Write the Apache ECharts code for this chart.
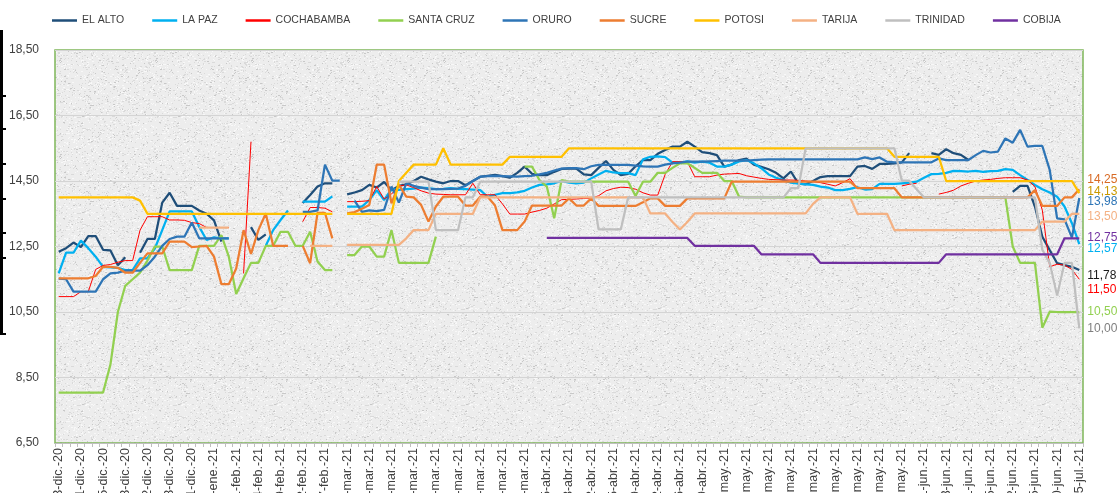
<!DOCTYPE html>
<html>
<head>
<meta charset="utf-8">
<script src="https://cdn.jsdelivr.net/npm/echarts@6/dist/echarts.min.js"></script>
<style>
  html, body { margin: 0; padding: 0; background: #ffffff; }
  #chart { width: 1120px; height: 493px; }
</style>
</head>
<body>
<div id="chart"></div>
<script>
// días con dato, por mes (eje de categorías)
const diasDic = [3, 7, 9, 11, 12, 14, 15, 16, 17, 18, 19, 21, 22, 23, 24, 28, 29, 30, 31];
const diasEne = [4, 5, 11, 18, 25];
const diasFeb = [1, 2, 3, 4, 5, 8, 9, 10, 11, 12, 15, 16, 17, 18];
const diasMar = [1, 2, 3, 4, 5, 6, 8, 9, 10, 11, 12, 13, 15, 16, 17, 18, 19, 20, 22, 23, 24, 25, 26, 27, 29, 30, 31];
const diasAbr = [1, 5, 6, 7, 8, 9, 10, 12, 13, 14, 15, 16, 17, 19, 20, 21, 22, 23, 24, 26, 27, 28, 29, 30];
const diasMay = [3, 4, 5, 6, 7, 8, 10, 11, 12, 13, 14, 15, 16, 17, 18, 19, 20, 21, 22, 23, 24, 25, 26, 27, 28, 29, 30, 31];
const diasJun = [1, 3, 7, 8, 9, 10, 11, 12, 14, 15, 18, 21, 22, 23, 24, 25, 28, 29, 30];
const diasJul = [1, 2, 5];

const elAlto = [
  12.34, 12.45, 12.62, 12.48, 12.82, 12.82, 12.4, 12.38, 11.93, 12.17,
  null, 12.31, 12.73, 12.73, 13.84, 14.14, 13.74, 13.74, 13.74, 13.6,
  13.5, 13.3, 12.65, null, null, null, 13.09, 12.7, 12.87, null,
  null, null, null, 13.83, 14.07, 14.33, 14.43, 14.43, null, 14.09,
  14.15, 14.22, 14.38, 14.3, 14.47, 14.22, 14.35, 14.4, 14.5, 14.63,
  14.55, 14.48, 14.43, 14.5, 14.5, 14.37, 14.5, 14.63, 14.66, 14.69,
  14.65, 14.6, 14.75, 14.94, 14.72, 14.68, 14.68, 14.78, 14.87, 14.88,
  14.88, 14.7, 14.68, 14.9, 15.11, 14.84, 14.68, 14.72, 14.95, 15.14,
  15.14, 15.33, 15.45, 15.55, 15.55, 15.7, 15.55, 15.38, 15.35, 15.29,
  14.94, 15.0, 15.14, 15.18, 15.0, 14.93, 14.86, 14.75, 14.58, 14.79,
  14.43, 14.4, 14.5, 14.62, 14.65, 14.65, 14.65, 14.65, 14.94, 14.96,
  14.87, 15.02, 15.02, 15.04, 15.07, 15.35, null, null, 15.35, 15.3,
  15.47, 15.35, 15.3, 15.14, null, null, null, null, null, 14.17,
  14.35, 14.35, 13.72, 12.8, 12.39, 11.99, 11.93, 11.88, 11.78
];
const laPaz = [
  11.68, 12.31, 12.31, 12.68, 12.45, 12.19, 11.88, 11.86, 11.85, 11.78,
  11.78, 12.14, 12.14, 12.44, 13.0, 13.57, 13.57, 13.57, 13.57, 13.1,
  12.7, 12.78, 12.75, 12.75, null, null, null, null, 12.52, 13.0,
  13.31, 13.6, null, 13.87, 13.87, 13.87, 13.87, 14.03, null, 13.72,
  13.72, 13.72, 13.92, 14.22, 13.92, 14.25, 14.23, 14.25, 14.27, 14.3,
  14.28, 14.25, 14.26, 14.28, 14.26, 14.25, 14.24, 14.22, 14.02, 14.08,
  14.13, 14.13, 14.15, 14.2, 14.3, 14.38, 14.4, 14.43, 14.5, 14.45,
  14.43, 14.45, 14.58, 14.7, 14.81, 14.76, 14.74, 14.74, 14.68, 15.16,
  15.24, 15.25, 15.23, 15.06, 15.06, 15.1, 15.06, 15.09, 15.06, 14.94,
  14.94, 15.0, 15.1, 15.14, 15.04, 14.89, 14.7, 14.6, 14.53, 14.45,
  14.42, 14.4, 14.38, 14.33, 14.3, 14.22, 14.22, 14.26, 14.31, 14.24,
  14.25, 14.41, 14.41, 14.41, 14.43, 14.45, 14.48, 14.6, 14.71, 14.72,
  14.75, 14.81, 14.8, 14.79, 14.81, 14.78, 14.8, 14.81, 14.86, 14.84,
  14.68, 14.53, 14.38, 14.25, 14.15, 14.02, 13.72, 13.21, 12.57
];
const cochabamba = [
  10.97, 10.97, 10.97, 11.12, 11.12, 11.8, 11.92, 11.95, 12.02, 12.07,
  12.07, 13.0, 13.41, 13.41, 13.41, 13.31, 13.31, 13.3, 13.23, 13.2,
  13.08, 13.08, 13.08, 13.08, null, 11.68, 15.7, null, null, null,
  null, null, null, 13.26, 13.69, 13.69, 13.67, 13.56, null, 13.87,
  13.87, 13.88, 13.9, 14.33, 13.95, 14.1, 14.35, 14.38, 14.3, 14.2,
  14.13, 14.1, 14.09, 14.08, 14.08, 14.08, 14.43, 14.08, 14.08, 14.08,
  13.8, 13.49, 13.49, 13.49, 13.55, 13.6, 13.67, 13.8, 13.93, 13.94,
  13.95, 13.97, 13.97, 14.05, 14.2, 14.27, 14.31, 14.3, 14.25, 14.14,
  14.07, 14.07, 14.7, 15.09, 15.09, 15.09, 14.63, 14.63, 14.63, 14.68,
  14.71, 14.72, 14.73, 14.66, 14.62, 14.58, 14.55, 14.54, 14.53, 14.53,
  14.52, 14.5, 14.48, 14.45, 14.4, 14.35, 14.45, 14.57, 14.28, 14.28,
  14.28, 14.28, 14.28, null, 14.35, 14.4, 14.43, null, null, 14.1,
  14.15, 14.22, 14.35, 14.43, 14.5, 14.53, 14.55, 14.58, 14.6, 14.6,
  14.6, 14.53, 14.33, 13.61, 11.88, 11.96, 11.93, 11.8, 11.5
];
const santaCruz = [
  8.04, 8.04, 8.04, 8.04, 8.04, 8.04, 8.04, 8.9, 10.5, 11.3,
  11.5, 11.7, 12.07, 12.5, 12.5, 11.78, 11.78, 11.78, 11.78, 12.52,
  12.52, 12.52, 12.85, 12.19, 11.05, 11.53, 12.0, 12.0, 12.52, 12.52,
  12.95, 12.95, 12.52, 12.52, 12.95, 12.04, 11.78, 11.78, null, 12.24,
  12.24, 12.5, 12.5, 12.19, 12.19, 13.0, 12.0, 12.0, 12.0, 12.0,
  12.0, 12.8, null, null, null, null, null, null, null, null,
  null, null, null, 14.94, 14.94, 14.53, 14.33, 13.36, 14.53, 14.48,
  14.48, 14.48, 14.48, 14.48, 14.48, 14.48, 14.48, 14.48, 14.04, 14.48,
  14.48, 14.75, 14.75, 14.9, 15.04, 15.04, 14.9, 14.75, 14.75, 14.75,
  14.5, 14.5, 14.02, 14.0, 14.0, 14.0, 14.0, 14.0, 14.0, 14.0,
  14.0, 14.0, 14.0, 14.0, 14.0, 14.0, 14.0, 14.0, 14.0, 14.0,
  14.0, 14.0, 14.0, 14.0, 14.0, 14.0, 14.0, 14.0, 14.0, 14.0,
  14.0, 14.0, 14.0, 14.0, 14.0, 14.0, 14.0, 14.0, 14.0, 12.5,
  12.0, 12.0, 12.0, 10.02, 10.51, 10.5, 10.5, 10.5, 10.5
];
const oruro = [
  11.52, 11.5, 11.12, 11.12, 11.12, 11.12, 11.5, 11.68, 11.7, 11.76,
  11.76, 11.76, 11.93, 12.19, 12.52, 12.73, 12.8, 12.8, 13.23, 12.75,
  12.75, 12.75, 12.75, 12.75, null, null, null, null, null, null,
  null, null, null, 13.56, 13.56, 13.6, 15.0, 14.51, 14.51, null,
  13.9, 13.56, 13.6, 13.58, 13.62, 14.33, 13.84, 14.43, 14.35, 14.3,
  14.25, 14.25, 14.25, 14.26, 14.27, 14.35, 14.5, 14.63, 14.65, 14.66,
  14.65, 14.64, 14.63, 14.65, 14.66, 14.7, 14.75, 14.82, 14.88, 14.89,
  14.89, 14.86, 14.95, 14.99, 14.99, 14.99, 14.99, 14.99, 14.97, 14.95,
  14.94, 14.94, 15.0, 15.04, 15.06, 15.09, 15.09, 15.09, 15.1, 15.11,
  15.12, 15.12, 15.12, 15.12, 15.14, 15.15, 15.16, 15.16, 15.16, 15.16,
  15.16, 15.16, 15.16, 15.16, 15.16, 15.16, 15.16, 15.16, 15.16, 15.22,
  15.17, 15.22, 15.09, 15.07, 15.07, 15.07, 15.07, 15.07, 15.07, 15.19,
  15.14, 15.14, 15.14, 15.14, 15.29, 15.42, 15.37, 15.4, 15.8, 15.67,
  16.06, 15.55, 15.57, 15.57, 14.84, 13.36, 13.33, 12.77, 13.98
];
const sucre = [
  11.53, 11.53, 11.53, 11.53, 11.53, 11.6, 11.88, 11.88, 11.85, 11.7,
  11.7, 12.0, 12.29, 12.29, 12.29, 12.65, 12.65, 12.65, 12.48, 12.5,
  12.52, 12.19, 11.35, 11.35, 11.83, 13.0, 12.27, 13.0, 13.51, 12.52,
  12.52, 12.52, null, 12.52, 11.99, 13.53, 13.53, 12.75, null, 13.51,
  13.55, 13.65, 13.77, 15.0, 15.0, 13.82, 14.38, 14.02, 14.0, 13.77,
  13.26, 13.72, 14.02, 14.02, 14.02, 13.75, 13.75, 14.02, 14.02, 13.75,
  13.0, 13.0, 13.0, 13.26, 13.75, 13.75, 13.75, 13.75, 13.75, 13.97,
  13.75, 13.75, 13.97, 13.74, 13.74, 13.74, 13.74, 13.74, 13.74, 13.85,
  13.97, 13.97, 13.74, 13.74, 13.74, 13.97, 13.97, 13.97, 13.97, 13.97,
  13.97, 14.48, 14.48, 14.48, 14.48, 14.48, 14.48, 14.48, 14.48, 14.48,
  14.48, 14.48, 14.48, 14.48, 14.48, 14.48, 14.48, 14.48, 14.28, 14.28,
  14.28, 14.28, 14.28, 14.28, 14.0, 14.0, 14.0, 14.0, 14.0, 14.0,
  14.0, 14.0, 14.0, 14.0, 14.0, 14.0, 14.0, 14.0, 14.0, 14.0,
  14.0, 14.0, 14.22, 13.74, 13.74, 13.74, 14.0, 14.0, 14.25
];
const potosi = [
  14.0, 14.0, 14.0, 14.0, 14.0, 14.0, 14.0, 14.0, 14.0, 14.0,
  14.0, 13.9, 13.5, 13.5, 13.5, 13.5, 13.5, 13.5, 13.5, 13.5,
  13.5, 13.5, 13.5, 13.5, 13.5, 13.5, 13.5, 13.5, 13.5, 13.5,
  13.5, 13.5, 13.5, 13.5, 13.5, 13.5, 13.5, 13.5, null, 13.5,
  13.5, 13.5, 13.5, 13.5, 13.5, 13.5, 14.5, 14.75, 15.0, 15.0,
  15.0, 15.0, 15.5, 15.0, 15.0, 15.0, 15.0, 15.0, 15.0, 15.0,
  15.0, 15.24, 15.24, 15.24, 15.24, 15.24, 15.24, 15.24, 15.24, 15.5,
  15.5, 15.5, 15.5, 15.5, 15.5, 15.5, 15.5, 15.5, 15.5, 15.5,
  15.5, 15.5, 15.5, 15.5, 15.5, 15.5, 15.5, 15.5, 15.5, 15.5,
  15.5, 15.5, 15.5, 15.5, 15.5, 15.5, 15.5, 15.5, 15.5, 15.5,
  15.5, 15.5, 15.5, 15.5, 15.5, 15.5, 15.5, 15.5, 15.5, 15.5,
  15.5, 15.5, 15.5, 15.24, 15.24, 15.24, 15.24, 15.24, 15.24, 15.24,
  14.5, 14.5, 14.5, 14.5, 14.5, 14.5, 14.5, 14.5, 14.5, 14.5,
  14.5, 14.5, 14.5, 14.5, 14.5, 14.5, 14.5, 14.5, 14.13
];
const tarija = [
  null, null, null, null, null, null, null, null, null, null,
  null, null, null, null, null, null, null, null, null, 13.08,
  13.08, 13.08, 13.08, 13.08, null, null, null, null, null, null,
  null, null, null, null, 12.52, 12.52, 12.52, 12.52, null, 12.55,
  12.55, 12.55, 12.55, 12.55, 12.55, 12.55, 12.55, 12.75, 13.0, 13.0,
  13.0, 13.5, 13.5, 13.5, 13.5, 13.5, 13.5, 14.0, 14.0, 14.0,
  14.0, 14.0, 14.0, 14.0, 14.0, 14.0, 14.0, 14.0, 14.0, 14.0,
  14.0, 14.0, 14.0, 14.0, 14.0, 14.0, 14.0, 14.0, 14.0, 14.0,
  13.51, 13.51, 13.51, 13.25, 13.02, 13.25, 13.51, 13.51, 13.51, 13.51,
  13.51, 13.51, 13.51, 13.51, 13.51, 13.51, 13.51, 13.51, 13.51, 13.51,
  13.51, 13.51, 13.8, 14.0, 14.0, 14.0, 14.0, 14.0, 13.5, 13.5,
  13.5, 13.5, 13.5, 13.0, 13.0, 13.0, 13.0, 13.0, 13.0, 13.0,
  13.0, 13.0, 13.0, 13.0, 13.0, 13.0, 13.0, 13.0, 13.0, 13.0,
  13.0, 13.0, 13.0, 13.26, 13.26, 13.26, 13.26, 13.5, 13.5
];
const trinidad = [
  null, null, null, null, null, null, null, null, null, null,
  null, null, null, null, null, null, null, null, null, null,
  null, null, null, null, null, null, null, null, null, null,
  null, null, null, null, null, null, null, null, null, null,
  null, null, null, null, null, null, 14.48, 14.48, 14.48, 14.48,
  14.48, 13.0, 13.0, 13.0, 13.0, 14.0, 14.0, 14.48, 14.48, 14.48,
  14.48, 14.48, 14.48, 14.48, 14.48, 14.48, 14.48, 14.48, 14.48, 14.48,
  14.48, 14.48, 14.48, 13.02, 13.02, 13.02, 13.02, 14.0, 14.0, 14.0,
  14.0, 14.0, 14.0, 14.0, 14.0, 14.0, 14.0, 14.0, 14.0, 14.0,
  14.0, 14.0, 14.0, 14.0, 14.0, 14.0, 14.0, 14.0, 14.0, 14.28,
  14.28, 15.5, 15.5, 15.5, 15.5, 15.5, 15.5, 15.5, 15.5, 15.5,
  15.5, 15.5, 15.5, 15.5, 14.51, 14.51, 14.25, 14.0, 14.0, 14.0,
  14.0, 14.0, 14.0, 14.0, 14.0, 14.0, 14.0, 14.0, 14.0, 14.0,
  14.0, 14.0, 14.0, 12.4, 12.0, 11.0, 12.0, 12.0, 10.0
];
const cobija = [
  null, null, null, null, null, null, null, null, null, null,
  null, null, null, null, null, null, null, null, null, null,
  null, null, null, null, null, null, null, null, null, null,
  null, null, null, null, null, null, null, null, null, null,
  null, null, null, null, null, null, null, null, null, null,
  null, null, null, null, null, null, null, null, null, null,
  null, null, null, null, null, null, 12.76, 12.76, 12.76, 12.76,
  12.76, 12.76, 12.76, 12.76, 12.76, 12.76, 12.76, 12.76, 12.76, 12.76,
  12.76, 12.76, 12.76, 12.76, 12.76, 12.76, 12.52, 12.52, 12.52, 12.52,
  12.52, 12.52, 12.52, 12.52, 12.52, 12.26, 12.26, 12.26, 12.26, 12.26,
  12.26, 12.26, 12.26, 12.0, 12.0, 12.0, 12.0, 12.0, 12.0, 12.0,
  12.0, 12.0, 12.0, 12.0, 12.0, 12.0, 12.0, 12.0, 12.0, 12.0,
  12.26, 12.26, 12.26, 12.26, 12.26, 12.26, 12.26, 12.26, 12.26, 12.26,
  12.26, 12.26, 12.26, 12.26, 12.26, 12.26, 12.75, 12.75, 12.75
];

const nombres = ['EL ALTO', 'LA PAZ', 'COCHABAMBA', 'SANTA CRUZ', 'ORURO', 'SUCRE', 'POTOSI', 'TARIJA', 'TRINIDAD', 'COBIJA'];
const valores = [elAlto, laPaz, cochabamba, santaCruz, oruro, sucre, potosi, tarija, trinidad, cobija];
const colores = ['#1F4E79', '#00B0F0', '#FF0000', '#92D050', '#2E75B6', '#ED7D31', '#FFC000', '#F4B183', '#BFBFBF', '#7030A0'];
const coloresEtiqueta = ['#1a1a1a', '#00B0F0', '#FF0000', '#92D050', '#2E75B6', '#D86A24', '#C99A00', '#F4B183', '#7F7F7F', '#7030A0'];
const grosor = [2.25, 2.25, 1, 2.25, 2.25, 2.25, 2.25, 2.25, 2.25, 2.25];
// desplazamiento vertical de las etiquetas finales para que no se pisen
const despEtiqueta = [6, 4, 10, 0, 4, -10, -1, 3, 0, -1];

const meses = [
  ['dic.-20', diasDic], ['ene.-21', diasEne], ['feb.-21', diasFeb], ['mar.-21', diasMar],
  ['abr.-21', diasAbr], ['may.-21', diasMay], ['jun.-21', diasJun], ['jul.-21', diasJul]
];
const fechas = [];
meses.forEach(([m, dias]) => dias.forEach(d => fechas.push(String(d).padStart(2, '0') + '-' + m)));

const fmt = v => v.toFixed(2).replace('.', ',');
const fuente = '"Liberation Sans", Arial, sans-serif';

// fondo granito del área de trazado
function textura() {
  const c = document.createElement('canvas');
  c.width = 96; c.height = 96;
  const ctx = c.getContext('2d');
  ctx.fillStyle = '#ededed';
  ctx.fillRect(0, 0, 96, 96);
  let s = 12345;
  const rnd = () => (s = (s * 16807) % 2147483647) / 2147483647;
  for (let i = 0; i < 1500; i++) {
    const x = Math.floor(rnd() * 96), y = Math.floor(rnd() * 96), r = rnd();
    ctx.fillStyle = r < 0.45 ? '#dadada' : (r < 0.9 ? '#f8f8f8' : '#c8c8c8');
    ctx.fillRect(x, y, rnd() < 0.3 ? 2 : 1, 1);
  }
  return c;
}

// trozo de marco negro que asoma por el borde izquierdo
const marco = [{ type: 'rect', left: 0, top: 30, shape: { width: 3, height: 305 }, style: { fill: '#000000' } }];
[95, 128, 163, 198, 232, 257, 333].forEach(y => {
  marco.push({ type: 'rect', left: 0, top: y, shape: { width: 6, height: 2 }, style: { fill: '#000000' } });
});

const chart = echarts.init(document.getElementById('chart'));

const series = nombres.map((n, i) => ({
  name: n,
  type: 'line',
  data: valores[i],
  connectNulls: false,
  showSymbol: false,
  symbol: 'none',
  lineStyle: { width: grosor[i], color: colores[i] },
  itemStyle: { color: colores[i] },
  emphasis: { disabled: true },
  endLabel: {
    show: true,
    formatter: p => fmt(Array.isArray(p.value) ? p.value[1] : p.value),
    color: coloresEtiqueta[i],
    fontSize: 12,
    fontFamily: fuente,
    distance: 8,
    offset: [0, despEtiqueta[i]]
  }
}));

chart.setOption({
  animation: false,
  backgroundColor: '#ffffff',
  textStyle: { fontFamily: fuente },
  legend: {
    data: nombres,
    top: 10,
    left: 47,
    icon: 'rect',
    itemWidth: 25,
    itemHeight: 2.5,
    itemGap: 28,
    textStyle: { fontSize: 10.5, color: '#404040', fontFamily: fuente }
  },
  grid: {
    left: 55, right: 37, top: 50, bottom: 50,
    outerBoundsMode: 'none',
    containLabel: false,
    show: true,
    backgroundColor: { image: textura(), repeat: 'repeat' },
    borderColor: '#7FB65A',
    borderWidth: 1.5
  },
  xAxis: {
    type: 'category',
    data: fechas,
    boundaryGap: true,
    axisLine: { show: true, lineStyle: { color: '#BFBFBF' } },
    axisTick: { show: true, interval: 0, length: 4, lineStyle: { color: '#BFBFBF' } },
    axisLabel: { interval: 2, rotate: 90, fontSize: 12.5, color: '#404040', margin: 5, fontFamily: fuente }
  },
  yAxis: {
    type: 'value',
    min: 6.5,
    max: 18.5,
    interval: 2,
    axisLine: { show: false },
    axisTick: { show: false },
    axisLabel: { formatter: fmt, fontSize: 12, color: '#404040', margin: 16, fontFamily: fuente },
    splitLine: { lineStyle: { color: '#d4d4d4', width: 1 } }
  },
  graphic: marco,
  series: series
});
</script>
</body>
</html>
